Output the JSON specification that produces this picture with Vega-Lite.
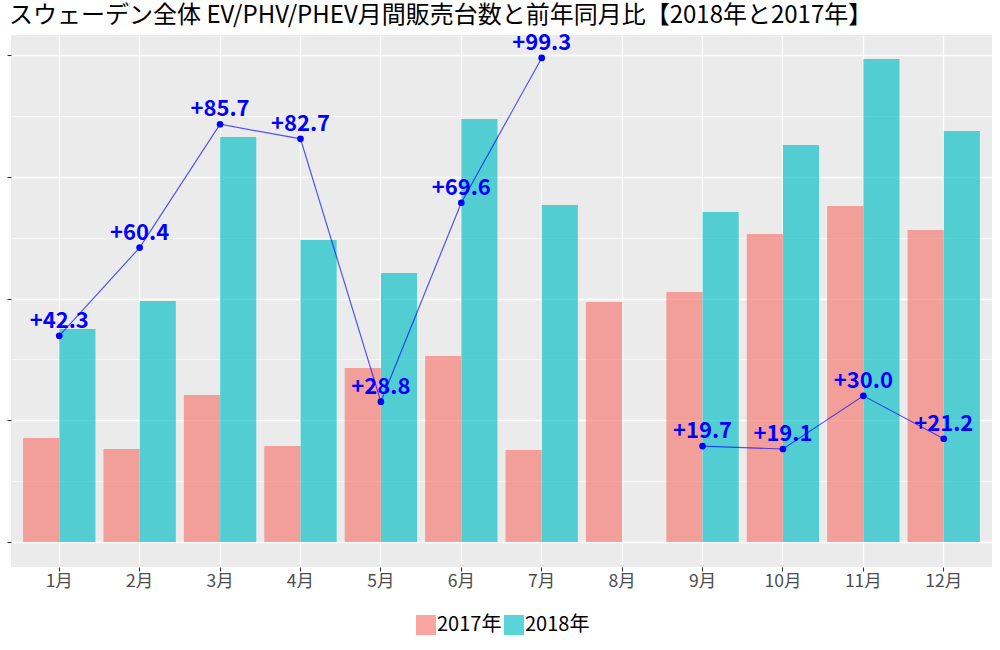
{
  "$schema": "https://vega.github.io/schema/vega-lite/v6.json",
  "width": 981,
  "height": 532,
  "autosize": {"type": "none"},
  "padding": {"left": 11, "top": 35, "right": 8, "bottom": 83},
  "background": "white",
  "title": {
    "text": "スウェーデン全体 EV/PHV/PHEV月間販売台数と前年同月比【2018年と2017年】",
    "anchor": "start",
    "frame": "group",
    "fontSize": 24,
    "fontWeight": "normal",
    "font": "Noto Sans CJK JP",
    "color": "#000000",
    "offset": 4,
    "dx": -2
  },
  "datasets": {
    "sales": [
      {"month": "1月", "year": "2017年", "units": 854},
      {"month": "2月", "year": "2017年", "units": 764},
      {"month": "3月", "year": "2017年", "units": 1207},
      {"month": "4月", "year": "2017年", "units": 789},
      {"month": "5月", "year": "2017年", "units": 1429},
      {"month": "6月", "year": "2017年", "units": 1528},
      {"month": "7月", "year": "2017年", "units": 756},
      {"month": "8月", "year": "2017年", "units": 1971},
      {"month": "9月", "year": "2017年", "units": 2053},
      {"month": "10月", "year": "2017年", "units": 2530},
      {"month": "11月", "year": "2017年", "units": 2760},
      {"month": "12月", "year": "2017年", "units": 2563},
      {"month": "1月", "year": "2018年", "units": 1750},
      {"month": "2月", "year": "2018年", "units": 1979},
      {"month": "3月", "year": "2018年", "units": 3327},
      {"month": "4月", "year": "2018年", "units": 2480},
      {"month": "5月", "year": "2018年", "units": 2209},
      {"month": "6月", "year": "2018年", "units": 3474},
      {"month": "7月", "year": "2018年", "units": 2768},
      {"month": "9月", "year": "2018年", "units": 2710},
      {"month": "10月", "year": "2018年", "units": 3261},
      {"month": "11月", "year": "2018年", "units": 3967},
      {"month": "12月", "year": "2018年", "units": 3376}
    ],
    "growth": [
      {"month": "1月", "pct": 42.3},
      {"month": "2月", "pct": 60.4},
      {"month": "3月", "pct": 85.7},
      {"month": "4月", "pct": 82.7},
      {"month": "5月", "pct": 28.8},
      {"month": "6月", "pct": 69.6},
      {"month": "7月", "pct": 99.3},
      {"month": "8月", "pct": null},
      {"month": "9月", "pct": 19.7},
      {"month": "10月", "pct": 19.1},
      {"month": "11月", "pct": 30.0},
      {"month": "12月", "pct": 21.2}
    ]
  },
  "encoding": {
    "x": {
      "field": "month",
      "type": "nominal",
      "sort": ["1月","2月","3月","4月","5月","6月","7月","8月","9月","10月","11月","12月"],
      "scale": {
        "domain": ["1月","2月","3月","4月","5月","6月","7月","8月","9月","10月","11月","12月"],
        "paddingInner": 0.1,
        "paddingOuter": 0.15
      },
      "axis": {
        "title": null,
        "labelAngle": 0,
        "labelFontSize": 17.5,
        "labelColor": "#4D4D4D",
        "labelFont": "Noto Sans CJK JP",
        "labelPadding": 1,
        "tickSize": 4,
        "tickColor": "#333333",
        "tickWidth": 1.1,
        "domain": false,
        "grid": true,
        "gridColor": "#FFFFFF",
        "gridWidth": 1.3,
        "bandPosition": 0.5
      }
    }
  },
  "layer": [
    {
      "data": {"name": "sales"},
      "mark": {"type": "bar", "opacity": 0.65},
      "encoding": {
        "xOffset": {"field": "year", "type": "nominal", "scale": {"paddingInner": 0, "paddingOuter": 0}},
        "y": {
          "field": "units",
          "type": "quantitative",
          "scale": {"domain": [-205, 4164], "nice": false, "zero": false},
          "axis": {
            "title": null,
            "values": [0, 1000, 2000, 3000, 4000],
            "labels": false,
            "domain": false,
            "tickSize": 4,
            "tickColor": "#333333",
            "tickWidth": 1.1,
            "grid": true,
            "gridColor": "#FFFFFF",
            "gridWidth": 1.3
          }
        },
        "color": {
          "field": "year",
          "type": "nominal",
          "scale": {"domain": ["2017年", "2018年"], "range": ["#F8766D", "#00BFC4"]},
          "legend": {
            "title": null,
            "orient": "none",
            "direction": "horizontal",
            "legendX": 405,
            "legendY": 580,
            "symbolType": "square",
            "symbolSize": 400,
            "symbolStrokeWidth": 0,
            "symbolOpacity": 0.65,
            "labelFontSize": 20,
            "labelFont": "Noto Sans CJK JP",
            "labelColor": "#000000",
            "labelOffset": 1,
            "columnPadding": 2,
            "padding": 0
          }
        }
      }
    },
    {
      "data": {"name": "growth"},
      "layer": [
        {
          "mark": {"type": "line", "color": "#0000FF", "opacity": 0.65, "strokeWidth": 1.2, "invalid": "break-paths-show-domains"},
          "encoding": {
            "y": {
              "field": "pct",
              "type": "quantitative",
              "scale": {"domain": [-5.1, 104.0], "nice": false, "zero": false},
              "axis": {
                "title": null,
                "orient": "right",
                "values": [12.49, 37.47, 62.45, 87.43],
                "labels": false,
                "ticks": false,
                "domain": false,
                "grid": true,
                "gridColor": "#FFFFFF",
                "gridWidth": 0.6
              }
            }
          }
        },
        {
          "transform": [{"filter": "datum.pct != null"}],
          "mark": {"type": "point", "filled": true, "color": "#0000FF", "size": 45, "opacity": 1},
          "encoding": {"y": {"field": "pct", "type": "quantitative"}}
        },
        {
          "transform": [{"filter": "datum.pct != null"}],
          "mark": {"type": "text", "color": "#0000FF", "fontSize": 22, "fontWeight": "bold", "font": "Noto Sans CJK JP", "dy": -8, "baseline": "alphabetic", "align": "center"},
          "encoding": {
            "y": {"field": "pct", "type": "quantitative"},
            "text": {"field": "pct", "type": "quantitative", "format": "+.1f"}
          }
        }
      ]
    }
  ],
  "resolve": {"scale": {"y": "independent"}, "axis": {"y": "independent"}},
  "config": {
    "view": {"fill": "#EBEBEB", "stroke": null},
    "axis": {"gridOpacity": 1},
    "font": "Noto Sans CJK JP"
  }
}
